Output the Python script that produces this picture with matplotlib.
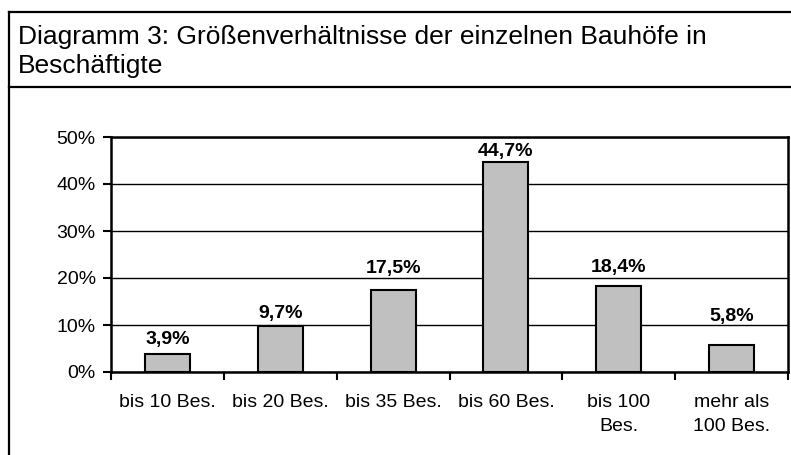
import matplotlib
matplotlib.use("Agg")
import matplotlib.pyplot as plt
import numpy as np
from matplotlib.lines import Line2D
from matplotlib.ticker import PercentFormatter

plt.rcParams['font.family'] = ['Liberation Sans', 'DejaVu Sans']

categories = ["bis 10 Bes.", "bis 20 Bes.", "bis 35 Bes.", "bis 60 Bes.",
              "bis 100\nBes.", "mehr als\n100 Bes."]
values = [3.9, 9.7, 17.5, 44.7, 18.4, 5.8]
value_labels = ["3,9%", "9,7%", "17,5%", "44,7%", "18,4%", "5,8%"]
# vertical gap (px) between bar top and label baseline, as in the original
label_gap = [10, 8, 17, 6, 14, 24]
title_lines = ["Diagramm 3: Größenverhältnisse der einzelnen Bauhöfe in", "Beschäftigte"]

W, H = 791, 455
fig = plt.figure(figsize=(W / 100, H / 100), dpi=100)

def fx(px):
    return px / W
def fy(py):
    return 1 - py / H

# frame lines (outer box + title separator)
fig.add_artist(Line2D([fx(9), fx(9)], [fy(12), 0], color='k', lw=1.6))
fig.add_artist(Line2D([fx(9), 1], [fy(12), fy(12)], color='k', lw=1.6))
fig.add_artist(Line2D([fx(9), 1], [fy(87), fy(87)], color='k', lw=1.6))
fig.text(fx(18), fy(44), title_lines[0], fontsize=19, ha='left', va='baseline')
fig.text(fx(18), fy(73), title_lines[1], fontsize=19, ha='left', va='baseline')

ax = fig.add_axes([fx(111), fy(372), fx(788) - fx(111), fy(137) - fy(372)])
x = np.arange(len(categories))
ax.bar(x, values, width=0.4, color='#c0c0c0', edgecolor='k', linewidth=1.5, zorder=3)

ax.set_xlim(-0.5, len(categories) - 0.5)
ax.set_ylim(0, 50)
ax.set_yticks([0, 10, 20, 30, 40, 50])
ax.yaxis.set_major_formatter(PercentFormatter(decimals=0))
ax.grid(axis='y', color='k', linewidth=1.0, zorder=1)

ax.set_xticks(x)
ax.set_xticklabels(categories, fontsize=14, linespacing=1.55)
ax.set_xticks(np.arange(len(categories) + 1) - 0.5, minor=True)
ax.tick_params(axis='x', which='major', length=0, pad=16)
ax.tick_params(axis='x', which='minor', length=6, width=1.5, direction='out')
ax.tick_params(axis='y', length=6, width=1.5, direction='out', labelsize=14, pad=5)

for s in ax.spines.values():
    s.set_linewidth(1.8)
    s.set_color('k')

for xi, v, lab, g in zip(x, values, value_labels, label_gap):
    ax.annotate(lab, (xi, v), xytext=(0, g * 0.72), textcoords='offset points',
                ha='center', va='baseline', fontsize=14, fontweight='bold', zorder=4)

fig.savefig("out.png", dpi=100)
